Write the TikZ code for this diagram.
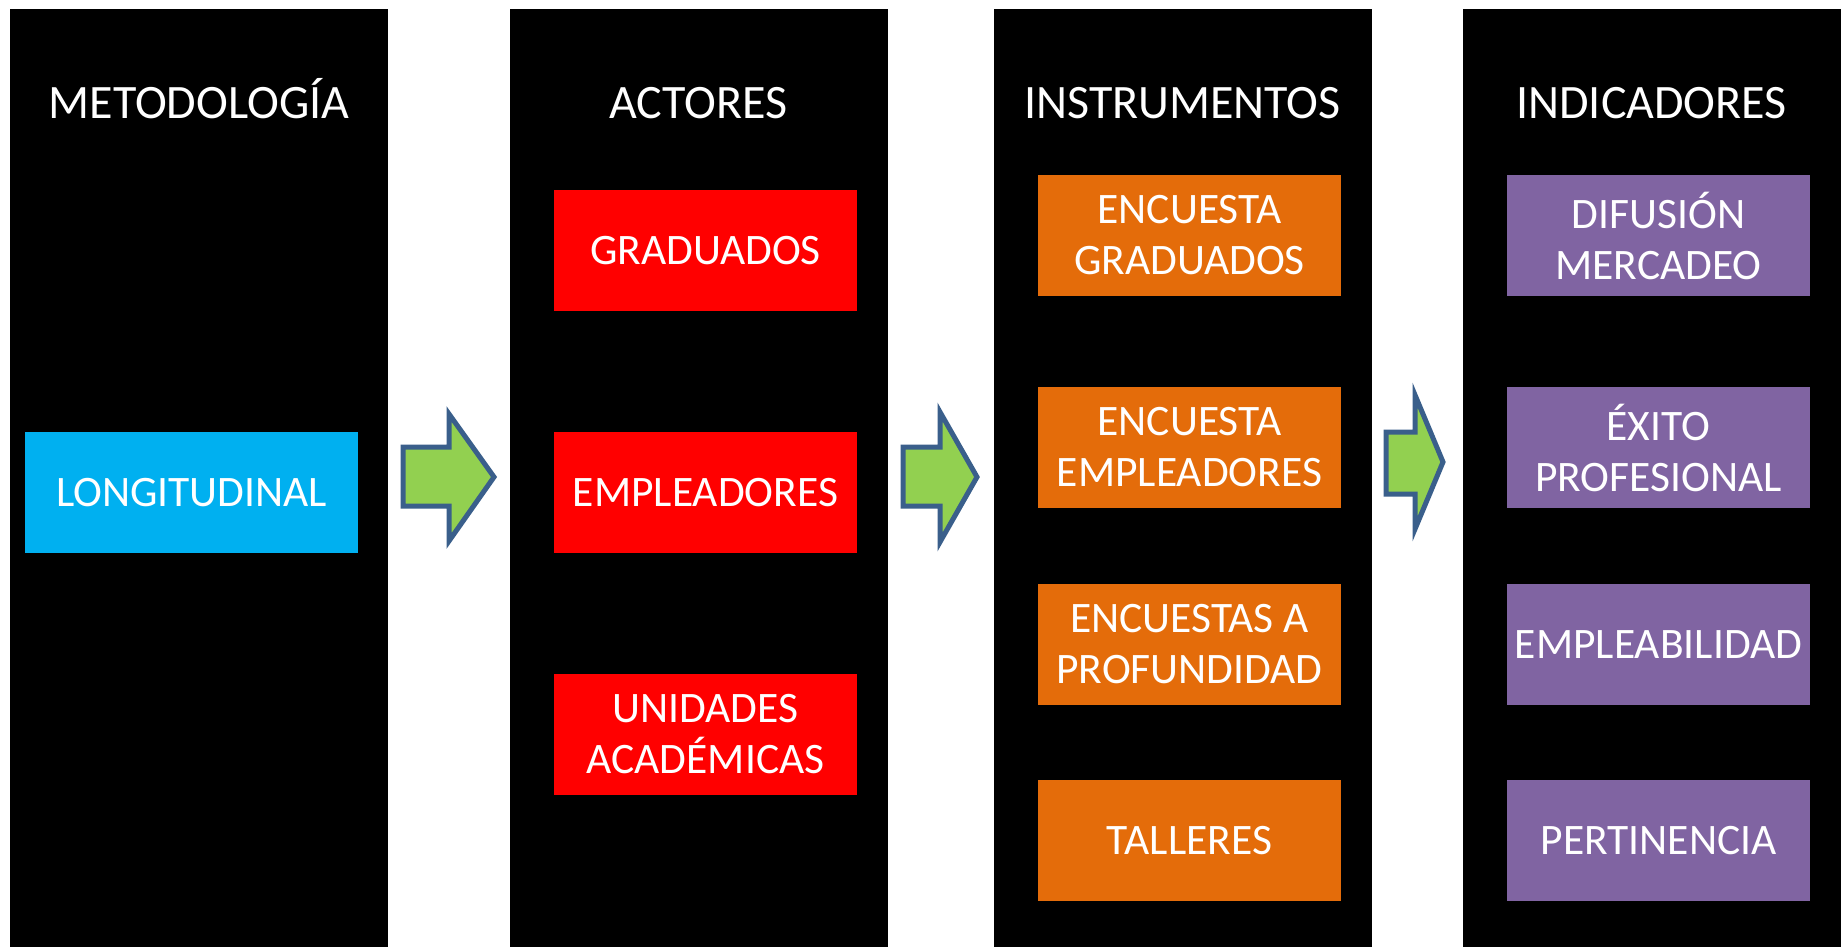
\documentclass[tikz,border=0pt]{standalone}
\usepackage{fontspec}
\setmainfont{Carlito}
\definecolor{cyanbox}{HTML}{00B0F0}
\definecolor{redbox}{HTML}{FF0000}
\definecolor{orangebox}{HTML}{E46C0A}
\definecolor{purplebox}{HTML}{8064A2}
\definecolor{arrowfill}{HTML}{92D050}
\definecolor{arrowline}{HTML}{3A5F8B}
\begin{document}
\begin{tikzpicture}[x=1pt,y=-1pt,
  column/.style={fill=black,draw=none,minimum width=378pt,minimum height=938pt,inner sep=0pt},
  title/.style={text=white,font=\fontsize{48}{57}\selectfont,anchor=base,inner sep=0pt},
  box/.style={draw=none,text=white,font=\fontsize{43.5}{51}\selectfont,align=center,minimum width=303pt,minimum height=121pt,inner sep=0pt},
  blockarrow/.style={fill=arrowfill,draw=arrowline,line width=5pt,line join=miter}]
\useasboundingbox (0,0) rectangle (1846,947);
\fill[white] (0,0) rectangle (1846,947);
% columns
\node[column] (c1) at (199,478) {};
\node[column] (c2) at (698.5,478) {};
\node[column] (c3) at (1182.5,478) {};
\node[column] (c4) at (1651.5,478) {};
% titles
\node[title] (t1) at (199,118) {METODOLOGÍA};
\node[title] (t2) at (698.5,118) {ACTORES};
\node[title] (t3) at (1182.5,118) {INSTRUMENTOS};
\node[title] (t4) at (1651.5,118) {INDICADORES};
% column 1
\node[box,fill=cyanbox,minimum width=333pt] (lon) at (191.5,492.5) {LONGITUDINAL};
% column 2
\node[box,fill=redbox] (a1) at (705.5,250.5) {GRADUADOS};
\node[box,fill=redbox] (a2) at (705.5,492.5) {EMPLEADORES};
\node[box,fill=redbox] (a3) at (705.5,734.5) {UNIDADES\\ACADÉMICAS};
% column 3
\node[box,fill=orangebox] (i1) at (1189.5,235.5) {ENCUESTA\\GRADUADOS};
\node[box,fill=orangebox] (i2) at (1189.5,447.5) {ENCUESTA\\EMPLEADORES};
\node[box,fill=orangebox] (i3) at (1189.5,644.5) {ENCUESTAS A\\PROFUNDIDAD};
\node[box,fill=orangebox] (i4) at (1189.5,840.5) {TALLERES};
% column 4
\node[box,fill=purplebox] (d1) at (1658.5,235.5) {DIFUSIÓN\\MERCADEO};
\node[box,fill=purplebox] (d2) at (1658.5,447.5) {ÉXITO\\PROFESIONAL};
\node[box,fill=purplebox] (d3) at (1658.5,644.5) {EMPLEABILIDAD};
\node[box,fill=purplebox] (d4) at (1658.5,840.5) {PERTINENCIA};
% block arrows
\draw[blockarrow] (403,447) -- (449,447) -- (449,414) -- (494,477) -- (449,541) -- (449,506) -- (403,506) -- cycle;
\draw[blockarrow] (903,447) -- (940,447) -- (940,412) -- (977,477) -- (940,542) -- (940,506) -- (903,506) -- cycle;
\draw[blockarrow] (1386,432) -- (1415,432) -- (1415,395) -- (1443,462) -- (1415,529) -- (1415,494) -- (1386,494) -- cycle;
\end{tikzpicture}
\end{document}
